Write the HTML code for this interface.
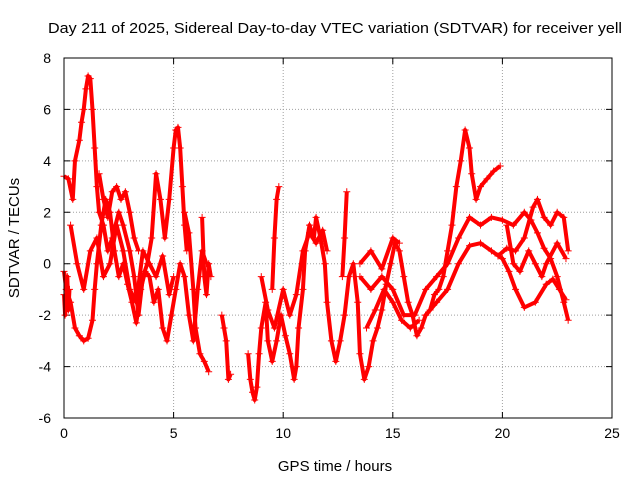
<!DOCTYPE html>
<html><head><meta charset="utf-8"><style>
html,body{margin:0;padding:0;background:#fff;}
svg{display:block;font-family:"Liberation Sans",sans-serif;}
</style></head><body>
<svg id="chart" width="640" height="480" viewBox="0 0 640 480">
<text x="48" y="33" font-size="15" textLength="574" lengthAdjust="spacingAndGlyphs" fill="#000">Day 211 of 2025, Sidereal Day-to-day VTEC variation (SDTVAR) for receiver yell</text>
<g id="grid"></g>
<g id="axes"></g>
<g id="series"></g>
<rect x="64" y="58" width="548" height="360" fill="none" stroke="#000" stroke-width="1"/>
<text x="335" y="471" font-size="15" text-anchor="middle">GPS time / hours</text>
<text transform="translate(19,238) rotate(-90)" font-size="15" text-anchor="middle">SDTVAR / TECUs</text>
</svg>
<script>
const xTicks=[0,5,10,15,20,25];
const yTicks=[-6,-4,-2,0,2,4,6,8];
const t1=[0,0.2,0.4,0.5,0.7,0.8,0.9,1.0,1.1,1.2,1.3,1.4,1.5,1.6,1.8,2.0,2.2,2.5,2.7,3.0,3.2,3.4,3.6,3.8,4.0,4.2,4.4,4.6,4.8,5.0,5.1,5.2,5.3,5.4,5.5,5.6];
const v1=[3.4,3.3,2.5,4,4.8,5.5,6,6.8,7.3,7.2,6,4.5,3,2,1.5,0.5,1,2,1.5,0.5,-0.5,-2,-0.5,0,1,3.5,2.5,1,2.5,4.5,5.2,5.3,4.5,3,1.5,0.5];
const t2=[0,0.1,0.3,0.5,0.7,0.9,1.1,1.3,1.4,1.5,1.7,1.9,2.1,2.3,2.5,2.7,2.9,3.1,3.3,3.5,3.7,3.9,4.1,4.3,4.5,4.7,4.9,5.1,5.3,5.5,5.7,5.9,6.1,6.3,6.5];
const v2=[-0.3,-1,-1.5,-2.5,-2.8,-3,-2.9,-2.2,-1,0,1.5,2.5,2,0.5,-0.5,0,-0.8,-1.5,-2.3,-1,-0.3,-0.5,-1.5,-1,-2.5,-3,-2,-1,0,-0.5,-2,-3,-1,0.5,0];
const t3=[1.6,1.8,2.0,2.2,2.4,2.6,2.8,3.0,3.2,3.4];
const v3=[3.5,2.5,1.8,2.8,3,2.5,2.8,2,1,0.5];
const t4=[5.5,5.7,5.9,6.0,6.2,6.4,6.6];
const v4=[2,1.2,-1,-2.5,-3.5,-3.8,-4.2];
const t5=[7.2,7.3,7.4,7.5,7.6];
const v5=[-2,-2.5,-3,-4.5,-4.3];
const t6=[8.4,8.5,8.6,8.7,8.8,8.9,9.0,9.2,9.3,9.5,9.7,9.9,10.1,10.3,10.5,10.6,10.7,10.9,11.0,11.2,11.4,11.5,11.7,11.9,12.0,12.2,12.4,12.6,12.8,13.0,13.2,13.4,13.5,13.7,13.9,14.1,14.3,14.5,14.7,14.9,15.1,15.3,15.5,15.7,15.9,16.1,16.3,16.5,16.7,16.9,17.1,17.3,17.5,17.7,17.9,18.1,18.3,18.5,18.6,18.8,19.0,19.3,19.6,19.9];
const v6=[-3.5,-4.5,-5,-5.3,-4.8,-3.5,-2.5,-1.5,-3,-3.8,-3,-2,-2.8,-3.5,-4.5,-4,-2.5,-1,0.5,1.5,1,1.8,1,0,-1.5,-3,-3.8,-3,-2,-0.5,0,-1.5,-3.5,-4.5,-4,-3,-2.5,-1.8,-0.8,0,0.8,0.5,-0.5,-1.5,-2,-2.8,-2.5,-2,-1.8,-1.2,-1,-0.5,0.5,1.5,3,4,5.2,4.5,3.5,2.5,3,3.3,3.6,3.8];
const t7=[9.5,9.6,9.7,9.8];
const v7=[-1,1,2.5,3];
const t8=[13.5,14.0,14.5,15.0,15.5,16.0,16.5,17.0,17.5,18.0,18.5,19.0,19.5,20.0,20.5,21.0,21.3,21.6,21.9,22.2,22.5,22.8,23.0];
const v8=[-0.5,-1,-0.5,-1,-2,-2,-1,-0.5,0,1,1.8,1.5,1.8,1.7,1.5,2,1.7,1.2,0.6,0.2,-0.5,-1.5,-2.2];
const t9=[16.5,17.0,17.5,18.0,18.5,19.0,19.5,20.0,20.3,20.6,21.0,21.5,22.0,22.3,22.6,22.9];
const v9=[-2,-1.5,-1,0,0.7,0.8,0.5,0.2,-0.3,-1,-1.7,-1.5,-0.8,-0.6,-1,-1.4];
const t10=[19.8,20.2,20.6,21.0,21.4,21.6,21.9,22.2,22.5,22.8,23.0];
const v10=[0.3,0.6,0.5,1,2.2,2.5,1.8,1.5,2,1.8,0.5];
const t11=[20.2,20.5,20.8,21.2,21.5,21.8,22.0,22.5,22.9];
const v11=[1.5,0,-0.3,0.5,0,-0.5,0,0.8,0.2];
const t12=[12.7,12.8,12.9];
const v12=[-0.5,1,2.8];
const t13=[13.5,14.0,14.5,15.0,15.3];
const v13=[0,0.5,-0.2,1,0.8];
const t14=[0.3,0.6,0.9,1.2,1.5,1.8,2.1,2.4,2.7,3.0,3.3,3.6,3.9,4.2,4.5,4.8,5.0];
const v14=[1.5,0,-1,0.5,1,-0.5,0,1.5,0.5,-1,-1.5,0.5,0,-0.5,0.3,-1.2,-0.5];
const t15=[6.3,6.4,6.5,6.6,6.7];
const v15=[1.8,-0.5,-1.2,0,-0.5];
const t16=[9.0,9.3,9.6,10.0,10.3,10.6,10.9,11.2,11.5,11.8,12.0];
const v16=[-0.5,-1.8,-2.5,-1,-2,-1.2,0.5,1.2,0.8,1.3,0.5];
const t17=[13.8,14.2,14.6,15.0,15.4,15.8,16.2];
const v17=[-2.5,-1.8,-1,-1.5,-2.2,-2.5,-2.2];
const t18=[0,0.05,0.1,0.15,0.2,0.25];
const v18=[-1.2,-2,-1.5,-0.5,-1.8,-1];
const tracksT=[t1,t2,t3,t4,t5,t6,t7,t8,t9,t10,t11,t12,t13,t14,t15,t16,t17,t18];
const tracksV=[v1,v2,v3,v4,v5,v6,v7,v8,v9,v10,v11,v12,v13,v14,v15,v16,v17,v18];

const NS='http://www.w3.org/2000/svg';
const X=v=>64+v*548/25;
const Y=v=>58+(8-v)*360/14;
function mk(tag,attrs,parent){const e=document.createElementNS(NS,tag);for(const k in attrs)e.setAttribute(k,attrs[k]);parent.appendChild(e);return e;}
const grid=document.getElementById('grid'),axes=document.getElementById('axes'),series=document.getElementById('series');
xTicks.forEach(t=>{
  if(t>0&&t<25){const g=mk('line',{x1:X(t),x2:X(t),y1:58,y2:418,stroke:'#a0a0a0','stroke-dasharray':'1,2'},grid);
  
  }
  const tk=mk('path',{d:`M${X(t)},418v-6M${X(t)},58v6`,stroke:'#000'},axes);
  
  
  const l=mk('text',{x:X(t),y:438,'font-size':14,'text-anchor':'middle'},axes);l.textContent=t;
  
  
});
yTicks.forEach(t=>{
  if(t>-6&&t<8){const g=mk('line',{x1:64,x2:612,y1:Y(t),y2:Y(t),stroke:'#a0a0a0','stroke-dasharray':'1,2'},grid);
  
  }
  const tk=mk('path',{d:`M64,${Y(t)}h6M612,${Y(t)}h-6`,stroke:'#000'},axes);
  
  
  const l=mk('text',{x:51,y:Y(t)+5,'font-size':14,'text-anchor':'end'},axes);l.textContent=t;
  
  
});
tracksT.forEach((ts,i)=>{
  const vs=tracksV[i];
  const d=ts.map((t,j)=>(j?'L':'M')+X(t)+','+Y(vs[j])).join('');
  const p=mk('path',{d:d,fill:'none',stroke:'#ff0000','stroke-width':4,'stroke-linejoin':'round'},series);
  
  
  ts.forEach((t,j)=>{
    const x=X(t),y=Y(vs[j]);
    const m=mk('path',{d:`M${x-3.5},${y}h7M${x},${y-3.5}v7`,stroke:'#ff0000','stroke-width':1},series);
    
    
  });
});
</script>
</body></html>
